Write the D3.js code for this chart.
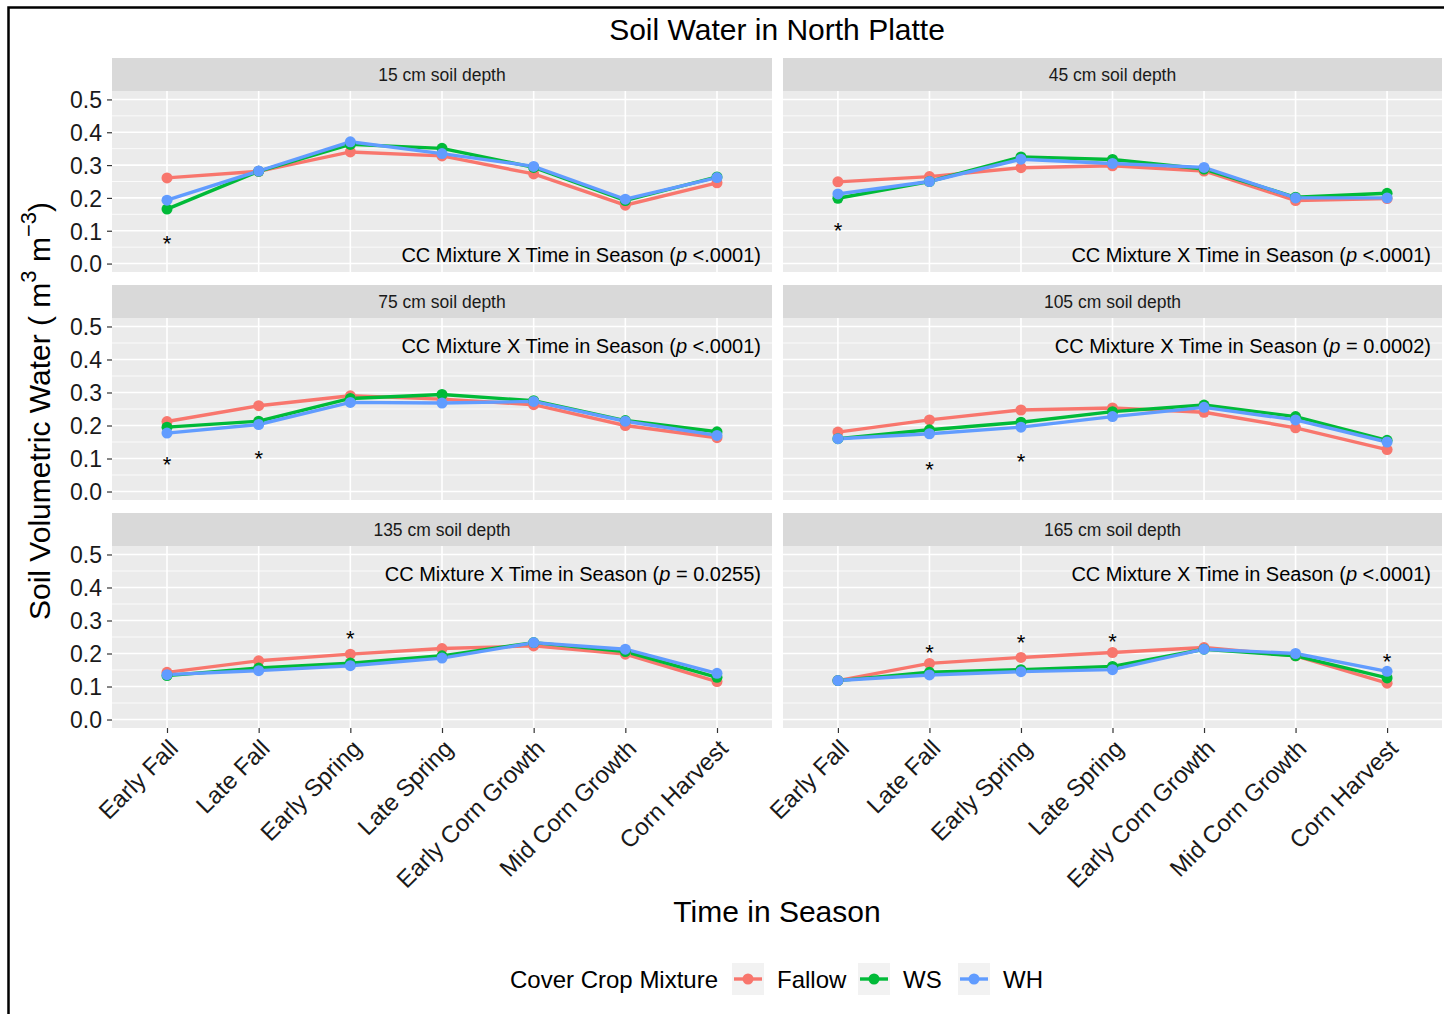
<!DOCTYPE html>
<html><head><meta charset="utf-8">
<script src="https://cdn.jsdelivr.net/npm/d3@7"></script>
<style>
body{margin:0;background:#fff;font-family:"Liberation Sans",Arial,sans-serif;}
</style></head>
<body><svg id="chart" width="1444" height="1014"></svg>
<script>
const categories = ["Early Fall","Late Fall","Early Spring","Late Spring","Early Corn Growth","Mid Corn Growth","Corn Harvest"];
const depths = ["15 cm soil depth","45 cm soil depth","75 cm soil depth","105 cm soil depth","135 cm soil depth","165 cm soil depth"];
const seriesNames = ["Fallow","WS","WH"];
const seriesColors = ["#F8766D","#00BA38","#619CFF"];
const yTicks = [0.0,0.1,0.2,0.3,0.4,0.5];

// values per depth panel, per series
const fallow = [
  [0.261,0.281,0.340,0.328,0.273,0.178,0.246],
  [0.249,0.265,0.292,0.298,0.282,0.192,0.198],
  [0.212,0.260,0.290,0.280,0.263,0.200,0.163],
  [0.180,0.217,0.247,0.253,0.240,0.193,0.127],
  [0.143,0.178,0.198,0.215,0.223,0.198,0.115],
  [0.118,0.170,0.188,0.203,0.218,0.193,0.110]
];
const ws = [
  [0.166,0.281,0.363,0.351,0.293,0.192,0.264],
  [0.199,0.250,0.325,0.317,0.288,0.202,0.214],
  [0.195,0.213,0.282,0.294,0.275,0.215,0.181],
  [0.160,0.187,0.210,0.242,0.262,0.227,0.155],
  [0.133,0.156,0.171,0.193,0.233,0.206,0.128],
  [0.118,0.143,0.151,0.161,0.213,0.193,0.126]
];
const wh = [
  [0.193,0.282,0.371,0.335,0.296,0.196,0.262],
  [0.212,0.250,0.318,0.305,0.293,0.200,0.200],
  [0.177,0.203,0.270,0.268,0.273,0.213,0.170],
  [0.160,0.175,0.195,0.227,0.255,0.217,0.150],
  [0.136,0.148,0.163,0.186,0.233,0.213,0.140],
  [0.118,0.135,0.145,0.151,0.213,0.200,0.146]
];
// significance asterisks: [panelIndex, categoryIndex, yValue]
const asterisks = [
  [0,0,0.075],[1,0,0.114],
  [2,0,0.096],[2,1,0.114],
  [3,1,0.081],[3,2,0.105],
  [4,2,0.258],
  [5,1,0.216],[5,2,0.246],[5,3,0.249],[5,6,0.189]
];
const annotations = [
  {p:"<.0001", top:false},
  {p:"<.0001", top:false},
  {p:"<.0001", top:true},
  {p:"= 0.0002", top:true},
  {p:"= 0.0255", top:true},
  {p:"<.0001", top:true}
];

const svg = d3.select("#chart");
const font = "'Liberation Sans', Arial, sans-serif";

// frame
svg.append("path").attr("d","M8.5,1014 L8.5,7.5 L1444,7.5").attr("fill","none").attr("stroke","#000").attr("stroke-width",2.5);

svg.append("text").attr("x",777).attr("y",40).attr("text-anchor","middle")
  .attr("font-size",30).attr("font-family",font).attr("fill","#000").text("Soil Water in North Platte");

const colX = [[112,772],[783,1442]];
const rowY = [{strip:58,top:91,bottom:272},{strip:285,top:318,bottom:500},{strip:513,top:546,bottom:728}];

const all = [fallow, ws, wh];

depths.forEach((d,i)=>{
  const col = i%2, row = Math.floor(i/2);
  const [x0,x1] = colX[col];
  const R = rowY[row];
  const x = d3.scalePoint().domain(categories).range([x0,x1]).padding(0.6);
  const y = d3.scaleLinear().domain([-0.0257,0.5257]).range([R.bottom,R.top]);
  const g = svg.append("g");
  // strip
  g.append("rect").attr("x",x0).attr("y",R.strip).attr("width",x1-x0).attr("height",R.top-R.strip).attr("fill","#d9d9d9");
  g.append("text").attr("x",(x0+x1)/2).attr("y",(R.strip+R.top)/2+6).attr("text-anchor","middle")
    .attr("font-size",17.5).attr("font-family",font).attr("fill","#1a1a1a").text(d);
  // panel
  g.append("rect").attr("x",x0).attr("y",R.top).attr("width",x1-x0).attr("height",R.bottom-R.top).attr("fill","#ebebeb");
  // minor grid
  [0.05,0.15,0.25,0.35,0.45].forEach(v=>{
    g.append("line").attr("x1",x0).attr("x2",x1).attr("y1",y(v)).attr("y2",y(v)).attr("stroke","#fff").attr("stroke-width",0.8);
  });
  yTicks.forEach(v=>{
    g.append("line").attr("x1",x0).attr("x2",x1).attr("y1",y(v)).attr("y2",y(v)).attr("stroke","#fff").attr("stroke-width",1.6);
  });
  categories.forEach(c=>{
    g.append("line").attr("x1",x(c)).attr("x2",x(c)).attr("y1",R.top).attr("y2",R.bottom).attr("stroke","#fff").attr("stroke-width",1.6);
  });
  // y axis on left column
  if(col===0){
    const ya = g.append("g").attr("transform",`translate(${x0},0)`)
      .call(d3.axisLeft(y).tickValues(yTicks).tickFormat(d3.format(".1f")).tickSize(5).tickPadding(5));
    ya.select(".domain").remove();
    ya.selectAll("line").attr("stroke","#333").attr("stroke-width",1.2);
    ya.selectAll("text").attr("font-size",23).attr("font-family",font).attr("fill","#1a1a1a").attr("dy","0.36em");
  }
  // x axis on bottom row
  if(row===2){
    const xa = g.append("g").attr("transform",`translate(0,${R.bottom})`)
      .call(d3.axisBottom(x).tickSize(5).tickPadding(6));
    xa.select(".domain").remove();
    xa.selectAll("line").attr("stroke","#333").attr("stroke-width",1.2);
    xa.selectAll("text").attr("font-size",24).attr("font-family",font).attr("fill","#1a1a1a")
      .attr("text-anchor","end").attr("dy","0").attr("y",0)
      .attr("transform","translate(12,22) rotate(-45)");
  }
  // lines & points
  const line = d3.line().x((v,k)=>x(categories[k])).y(v=>y(v));
  all.forEach((s,si)=>{
    g.append("path").attr("d",line(s[i])).attr("fill","none").attr("stroke",seriesColors[si]).attr("stroke-width",3.4);
  });
  all.forEach((s,si)=>{
    g.selectAll(null).data(s[i]).enter().append("circle")
      .attr("cx",(v,k)=>x(categories[k])).attr("cy",v=>y(v)).attr("r",5.5).attr("fill",seriesColors[si]);
  });
  // asterisks
  asterisks.filter(a=>a[0]===i).forEach(a=>{
    g.append("text").attr("x",x(categories[a[1]])).attr("y",y(a[2])+12).attr("text-anchor","middle")
      .attr("font-size",22).attr("font-family",font).attr("fill","#000").text("*");
  });
  // annotation
  const an = annotations[i];
  const ay = an.top ? R.top+35 : R.bottom-10;
  const t = g.append("text").attr("x",x1-11).attr("y",ay).attr("text-anchor","end")
    .attr("font-size",20).attr("font-family",font).attr("fill","#000");
  t.append("tspan").text("CC Mixture X Time in Season (");
  t.append("tspan").attr("font-style","italic").text("p");
  t.append("tspan").text(" " + an.p + ")");
});

// y axis title
const yt = svg.append("text").attr("transform","translate(50,411) rotate(-90)").attr("text-anchor","middle")
  .attr("font-size",30).attr("font-family",font).attr("fill","#000");
yt.append("tspan").text("Soil Volumetric Water ( m");
yt.append("tspan").attr("font-size",22).attr("dy",-14).text("3");
yt.append("tspan").attr("dy",14).text(" m");
yt.append("tspan").attr("font-size",22).attr("dy",-14).text("\u22123");
yt.append("tspan").attr("dy",14).text(")");

// x axis title
svg.append("text").attr("x",777).attr("y",922).attr("text-anchor","middle")
  .attr("font-size",30).attr("font-family",font).attr("fill","#000").text("Time in Season");

// legend
const lg = svg.append("g");
lg.append("text").attr("x",510).attr("y",988).attr("font-size",24).attr("font-family",font).attr("fill","#000").text("Cover Crop Mixture");
const legX = [732,858,958];
seriesNames.forEach((n,i)=>{
  const kx = legX[i];
  lg.append("rect").attr("x",kx).attr("y",963).attr("width",32).attr("height",32).attr("fill","#f2f2f2");
  lg.append("line").attr("x1",kx+2).attr("x2",kx+30).attr("y1",979).attr("y2",979).attr("stroke",seriesColors[i]).attr("stroke-width",3.4);
  lg.append("circle").attr("cx",kx+16).attr("cy",979).attr("r",5.5).attr("fill",seriesColors[i]);
  lg.append("text").attr("x",kx+45).attr("y",988).attr("font-size",24).attr("font-family",font).attr("fill","#000").text(n);
});
</script></body></html>
